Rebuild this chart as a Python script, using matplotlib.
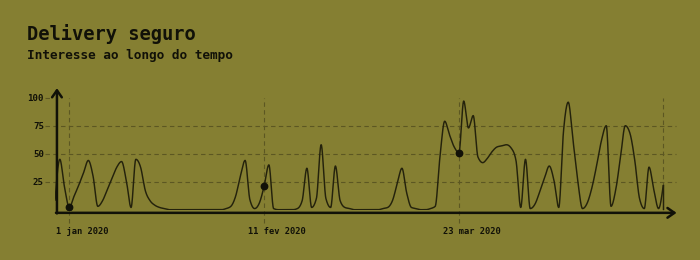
import numpy as np
import pandas as pd
import matplotlib
matplotlib.use("Agg")
import matplotlib.pyplot as plt
import matplotlib.dates as mdates
from matplotlib.transforms import ScaledTranslation

# ---------------- data ----------------
start_date = "2019-12-29"
end_date = "2020-05-05"
interest = [8, 45, 20, 2, 12, 22, 33, 44, 30, 3, 8, 18, 28, 38, 43, 26, 2, 45, 38, 17, 8, 4, 2, 1,
            0, 0, 0, 0, 0, 0, 0, 0, 0, 0, 0, 0,
            1, 3, 12, 30, 44, 9, 1, 6, 21, 40, 1, 0,
            0, 0, 0, 1, 8, 37, 2, 10, 58, 10, 2, 39, 8, 2, 1,
            0, 0, 0, 0, 0, 0,
            1, 2, 8, 23, 37, 15, 2, 1, 0, 0,
            1, 3, 47, 79, 67, 56, 51, 97, 73, 84, 47, 42, 46, 52, 56, 57, 58, 55, 44, 2,
            45, 1, 5, 16, 28, 39, 26, 2, 70, 96, 62, 26, 1, 6, 20, 40, 62, 75, 3, 18,
            47, 75, 68, 44, 10, 1, 38, 18, 1, 22]
highlight_dates = ["2020-01-01", "2020-02-11", "2020-03-23"]
tick_labels = ["1 jan 2020", "11 fev 2020", "23 mar 2020"]
y_ticks = [25, 50, 75, 100]
title = "Delivery seguro"
subtitle = "Interesse ao longo do tempo"

dates = pd.date_range(start_date, end_date, freq="D")
x = mdates.date2num(dates.to_pydatetime())
y = np.asarray(interest, dtype=float)
hx = mdates.date2num(pd.to_datetime(highlight_dates).to_pydatetime())


def monotone_x(xs, ys, n=24):
    """d3.curveMonotoneX style interpolation."""
    h = np.diff(xs)
    s = np.diff(ys) / h
    m = len(xs)
    t = np.zeros(m)
    for i in range(1, m - 1):
        p = (s[i - 1] * h[i] + s[i] * h[i - 1]) / (h[i - 1] + h[i])
        t[i] = (np.sign(s[i - 1]) + np.sign(s[i])) * min(abs(s[i - 1]), abs(s[i]), 0.5 * abs(p))
    t[0] = (3 * s[0] - t[1]) / 2
    t[-1] = (3 * s[-1] - t[-2]) / 2
    X, Y = [], []
    u = np.linspace(0, 1, n, endpoint=False)
    h00 = 2 * u**3 - 3 * u**2 + 1
    h10 = u**3 - 2 * u**2 + u
    h01 = -2 * u**3 + 3 * u**2
    h11 = u**3 - u**2
    for i in range(m - 1):
        X.append(xs[i] + u * h[i])
        Y.append(h00 * ys[i] + h10 * h[i] * t[i] + h01 * ys[i + 1] + h11 * h[i] * t[i + 1])
    X.append([xs[-1]])
    Y.append([ys[-1]])
    return np.concatenate(X), np.concatenate(Y)


xs, ys = monotone_x(x, y)
hy = np.interp(hx, xs, ys)

# ---------------- style ----------------
BG = "#857f32"
INK = "#111108"
LINE = "#24220c"
GRID = "#5c5722"
MONO = "DejaVu Sans Mono"

fig = plt.figure(figsize=(7, 2.6), dpi=100, facecolor=BG)
ax = fig.add_axes([55.04 / 700, 0.19346, 622.5 / 700, 0.47385])
ax.set_facecolor(BG)
x0 = x[0]
ax.set_xlim(x0, x0 + 131)
ax.set_ylim(0, 110)
for sp in ax.spines.values():
    sp.set_visible(False)

grid_kw = dict(color=GRID, lw=0.8, ls=(0, (4, 3)), clip_on=False, zorder=1)
# horizontal gridlines
for v in y_ticks[:-1]:
    ax.plot([x0 - 2.11, x0 + 130.7], [v, v], **grid_kw)
ax.plot([x0 - 2.11, x0 - 0.9], [100, 100], **grid_kw)
# vertical gridlines
for d in hx:
    ax.plot([d, d], [-12, 100], **grid_kw)
ax.plot([x[-1], x[-1]], [0, 100], **grid_kw)

# curve
ax.plot(xs, ys, color=LINE, lw=1.05, zorder=3, solid_capstyle="butt")
ax.plot([x[-1], x[-1]], [0, y[-1]], color=LINE, lw=1.05, zorder=3)
ax.plot(hx, hy, "o", color=INK, ms=4.6, zorder=4)

# axes with arrows
ax_y0 = -2.8
ax_x0 = x0 + 0.4
arrow = dict(arrowstyle="->,head_length=0.5,head_width=0.35", lw=1.8, color=INK,
             shrinkA=0, shrinkB=0)
ax.annotate("", xy=(x0 + 130.8, ax_y0), xytext=(ax_x0 - 0.2, ax_y0),
            arrowprops=arrow, annotation_clip=False, zorder=5)
ax.annotate("", xy=(ax_x0, 108.5), xytext=(ax_x0, ax_y0 - 0.5),
            arrowprops=arrow, annotation_clip=False, zorder=5)

# ticks
ax.set_yticks(y_ticks)
ax.set_yticklabels([str(v) for v in y_ticks], fontfamily=MONO, fontweight="bold",
                   fontsize=6.6, color=INK)
ax.set_xticks(hx)
ax.set_xticklabels(tick_labels, fontfamily=MONO, fontweight="bold", fontsize=6.3, color=INK)
ax.tick_params(axis="y", length=0, pad=8)
ax.tick_params(axis="x", length=0, pad=12.5)
offset = ScaledTranslation(12.5 / 100, 0, fig.dpi_scale_trans)
for lab in ax.get_xticklabels():
    lab.set_transform(lab.get_transform() + offset)

# titles
fig.text(27 / 700, (260 - 40) / 260, title, fontfamily=MONO, fontweight="bold",
         fontsize=13.5, color=INK, va="baseline", ha="left")
fig.text(27 / 700, (260 - 59.3) / 260, subtitle, fontfamily=MONO, fontweight="bold",
         fontsize=9.2, color=INK, va="baseline", ha="left")

fig.savefig("out.png", dpi=100, facecolor=BG)
